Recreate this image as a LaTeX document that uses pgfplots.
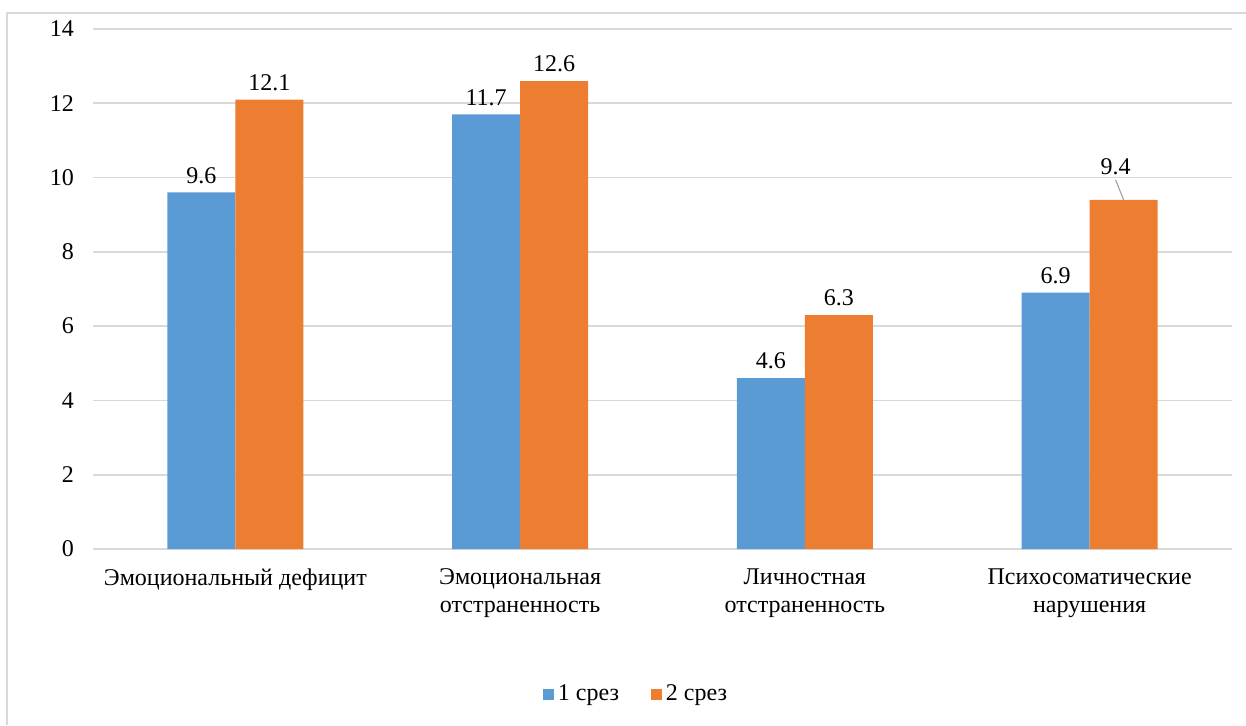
\documentclass[border=0pt]{standalone}
\usepackage{pgfplots}
\pgfplotsset{compat=1.18}
\usepackage{fontspec}
\IfFontExistsTF{LiberationSerif-Regular.ttf}
  {\setmainfont{LiberationSerif-Regular.ttf}\newfontfamily\tnr{LiberationSerif-Regular.ttf}}
  {\setmainfont{DejaVu Serif}\newfontfamily\tnr{DejaVu Serif}}
\definecolor{barblue}{HTML}{5B9BD5}
\definecolor{barorange}{HTML}{ED7D31}
\definecolor{gridgray}{HTML}{D9D9D9}

\pgfplotstableread{
x y
0 9.6
1 11.7
2 4.6
3 6.9
}\first
\pgfplotstableread{
x y
0 12.1
1 12.6
2 6.3
3 9.4
}\second

\newcommand\lblfont{\tnr\fontsize{12}{14}\selectfont}

\begin{document}
\begin{tikzpicture}[font=\lblfont]
\useasboundingbox (0,0) rectangle (623pt,362.5pt);
\draw[gridgray, line width=0.6pt] (3.5pt,0) -- (3.5pt,356pt) -- (623pt,356pt);
\begin{axis}[
  at={(46.5pt,88pt)}, anchor=south west,
  scale only axis, width=569.5pt, height=260pt,
  xmin=-0.5, xmax=3.5, ymin=0, ymax=14,
  ytick={0,2,...,14},
  xtick={0,1,2,3},
  xticklabels={Эмоциональный дефицит, Эмоциональная\\отстраненность, Личностная\\отстраненность, Психосоматические\\нарушения},
  xticklabel style={align=center, font=\lblfont, yshift=-2pt},
  yticklabel style={font=\lblfont, xshift=-6pt},
  /pgf/number format/assume math mode=true,
  axis line style={draw=none},
  major tick style={draw=none},
  ymajorgrids, grid style={gridgray, line width=0.8pt},
  ybar=0pt, bar width=34pt,
  nodes near coords={\pgfmathprintnumber[fixed, precision=1, fixed zerofill]{\pgfplotspointmeta}},
  every node near coord/.append style={font=\lblfont, black, yshift=1pt},
  legend columns=2,
  legend style={at={(0.4776,-0.279)}, anchor=center, draw=none, font=\lblfont,
    /tikz/every even column/.append style={column sep=14pt}},
  legend image code/.code={\fill[#1] (0pt,-2.75pt) rectangle (5.5pt,2.75pt);},
]
\addplot[fill=barblue, draw=none] table[x=x, y=y] {\first};
\addplot[fill=barorange, draw=none,
  coordinate style/.condition={\coordindex==3}{xshift=-4pt, yshift=8pt}] table[x=x, y=y] {\second};
\legend{1 срез, 2 срез}
\draw[gray!80, line width=0.5pt] ([xshift=17pt]axis cs:3,9.4) -- ([xshift=13pt,yshift=10pt]axis cs:3,9.4);
\end{axis}
\end{tikzpicture}
\end{document}
